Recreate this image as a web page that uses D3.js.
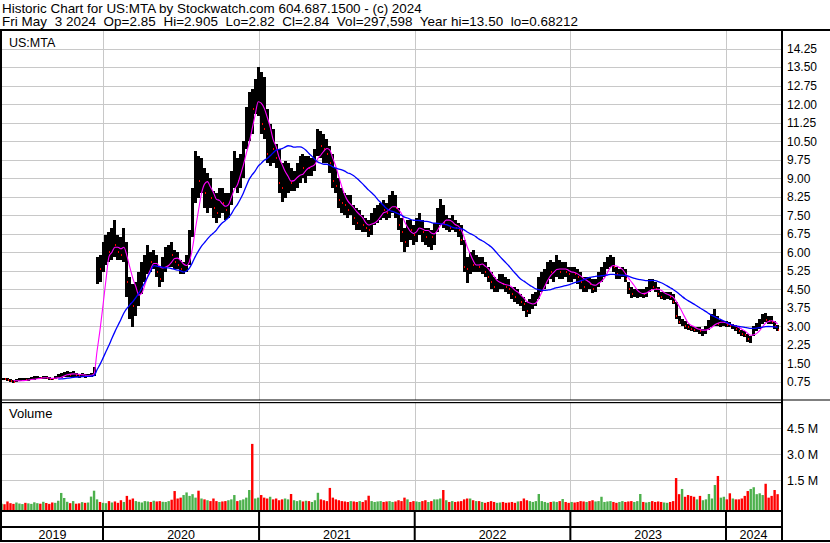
<!DOCTYPE html>
<html><head><meta charset="utf-8">
<script src="https://cdn.jsdelivr.net/npm/d3@7"></script>
<style>
body{margin:0;background:#fff}
svg{display:block}
text{font-family:"Liberation Sans",Arial,sans-serif;fill:#000;white-space:pre}
</style>
</head><body>
<svg id="c" width="830" height="543"></svg>
<script>
const headerLine1 = "Historic Chart for US:MTA by Stockwatch.com 604.687.1500 - (c) 2024";
const headerLine2 = "Fri May  3 2024  Op=2.85  Hi=2.905  Lo=2.82  Cl=2.84  Vol=297,598  Year hi=13.50  lo=0.68212";
const symbolLabel = "US:MTA";
const firstWeek = "2019-05-10";
const years = [2019, 2020, 2021, 2022, 2023, 2024];
const priceTicks = [0.75,1.5,2.25,3,3.75,4.5,5.25,6,6.75,7.5,8.25,9,9.75,10.5,11.25,12,12.75,13.5,14.25];
const volumeTicks = [1.5e6, 3e6, 4.5e6];

const weekLow = [
0.80,0.80,0.76,0.72,0.70,0.74,0.76,0.78,0.76,0.78,0.80,0.82,0.84,0.84,0.86,0.84,0.82,0.80,0.84,0.88,
0.92,0.94,0.96,0.94,0.96,0.94,0.92,0.94,0.92,0.94,0.96,1.00,
4.7,4.8,5.2,5.5,5.6,5.7,5.8,5.7,5.7,5.6,4.2,3.3,2.98,3.4,3.8,4.3,4.8,5.1,5.2,5.3,
5.0,4.6,4.8,5.2,5.4,5.4,5.3,5.3,5.1,5.1,5.2,5.5,6.6,8.0,8.2,8.4,7.8,7.6,7.8,7.4,
7.2,7.4,7.6,7.3,7.4,7.9,8.6,8.4,8.6,9.0,10.2,10.5,10.8,11.6,11.5,
10.8,10.6,9.6,9.5,9.6,9.4,8.4,8.05,8.2,8.4,8.5,8.5,8.6,8.8,9.0,8.8,9.1,9.1,9.3,9.9,
9.8,9.6,9.6,9.2,8.6,8.4,7.8,7.6,7.5,7.4,7.5,7.1,6.9,6.9,6.8,6.8,6.6,6.7,7.1,7.2,
7.3,7.4,7.3,7.4,7.6,7.4,6.9,6.4,6.0,6.2,6.5,
6.3,6.4,6.7,6.4,6.3,6.2,6.1,6.3,6.8,7.1,7.0,6.9,6.8,6.9,6.8,6.6,6.3,5.2,4.75,5.1,
5.2,5.2,5.2,5.1,5.0,4.8,4.5,4.4,4.4,4.5,4.5,4.4,4.3,4.1,4.0,3.9,3.8,3.6,3.38,3.5,
3.7,3.8,4.1,4.4,4.5,4.7,4.9,4.8,5.0,4.9,4.9,5.0,
4.8,4.8,4.9,4.7,4.5,4.4,4.4,4.5,4.35,4.4,4.6,4.8,5.0,5.3,5.4,5.2,4.9,4.9,5.0,4.8,
4.3,4.15,4.2,4.15,4.2,4.15,4.2,4.4,4.5,4.4,4.2,4.1,4.05,4.1,4.05,3.9,3.3,3.1,3.0,2.9,
2.85,2.8,2.75,2.75,2.7,2.6,2.7,2.85,2.95,3.0,3.0,2.97,
3.0,2.97,2.95,2.9,2.8,2.7,2.6,2.55,2.35,2.3,2.6,2.8,2.9,3.1,3.15,3.1,3.1,2.9,2.82
];
const weekHigh = [
0.92,0.90,0.88,0.84,0.82,0.86,0.88,0.90,0.88,0.90,0.94,0.98,0.98,0.96,1.00,0.98,0.94,0.92,0.98,1.06,
1.12,1.16,1.20,1.14,1.18,1.12,1.08,1.10,1.06,1.08,1.10,1.36,
5.8,5.9,6.4,6.7,6.8,7.0,7.3,6.7,6.6,7.0,6.4,5.0,4.7,4.8,5.2,5.6,5.9,6.3,6.0,6.1,
5.9,5.4,5.8,6.2,6.3,6.4,6.1,6.0,5.7,5.6,5.9,6.9,8.6,10.1,9.9,9.8,9.4,9.2,9.0,8.5,
8.4,8.6,8.6,8.4,8.4,9.3,10.1,9.8,10.0,10.5,11.9,12.5,12.6,13.0,13.5,
13.3,13.1,11.8,11.2,11.0,10.4,10.2,9.6,9.7,9.6,9.4,9.3,9.6,9.9,10.0,9.9,9.9,9.8,10.2,11.0,
10.9,10.8,10.6,10.3,10.0,9.4,9.0,8.6,8.4,8.3,8.3,7.9,7.8,7.7,7.5,7.4,7.3,7.6,7.8,7.9,
8.0,8.1,8.0,8.3,8.5,8.3,7.8,7.4,7.0,7.3,7.3,
7.1,7.4,7.6,7.3,7.0,7.0,6.9,7.2,7.8,8.15,7.9,7.5,7.4,7.5,7.3,7.2,7.1,6.5,5.8,6.0,
6.1,5.9,5.8,5.8,5.6,5.4,5.2,5.0,4.9,5.1,5.1,5.0,4.9,4.6,4.6,4.5,4.3,4.2,4.0,4.1,
4.3,4.4,5.0,5.2,5.3,5.6,5.7,5.6,5.9,5.7,5.6,5.6,
5.4,5.4,5.4,5.3,5.2,5.0,5.0,5.0,4.9,4.9,5.2,5.4,5.6,5.8,5.9,5.8,5.4,5.3,5.4,5.3,
4.8,4.6,4.5,4.5,4.5,4.5,4.6,4.9,4.9,4.8,4.6,4.4,4.4,4.4,4.4,4.3,4.0,3.4,3.3,3.2,
3.1,3.0,2.95,2.95,2.95,2.9,3.0,3.25,3.5,3.7,3.4,3.25,
3.2,3.2,3.15,3.1,3.05,2.95,2.85,2.8,2.7,2.6,3.0,3.12,3.3,3.5,3.53,3.4,3.4,3.2,3.05
];
const weekClose = [
0.86,0.84,0.80,0.76,0.74,0.80,0.82,0.84,0.80,0.84,0.88,0.90,0.92,0.88,0.94,0.90,0.86,0.84,0.92,1.00,
1.04,1.08,1.10,1.04,1.08,1.02,1.00,1.02,0.98,1.00,1.04,1.30,
5.6,5.3,6.0,6.2,6.0,6.5,6.3,6.0,5.9,6.3,4.8,3.9,3.8,4.2,4.6,5.2,5.5,5.7,5.6,5.7,
5.2,4.9,5.4,5.8,6.0,5.9,5.6,5.5,5.3,5.3,5.6,6.5,8.2,9.3,8.9,9.0,8.4,8.7,8.2,7.8,
7.6,8.2,8.0,7.7,8.1,9.1,9.8,8.9,9.6,10.2,11.5,12.0,11.8,12.4,12.8,
11.2,11.0,10.0,10.4,10.2,9.8,8.8,8.6,9.0,9.2,8.8,8.9,9.2,9.5,9.4,9.6,9.4,9.5,9.9,10.6,
10.3,10.2,10.0,9.6,8.9,8.7,8.1,8.0,7.9,7.7,8.0,7.4,7.2,7.3,7.1,7.0,6.9,7.4,7.5,7.6,
7.8,7.7,7.6,8.0,8.1,7.8,7.1,6.8,6.4,7.0,6.9,
6.7,7.1,7.2,6.8,6.6,6.7,6.6,7.0,7.5,7.6,7.2,7.2,7.0,7.2,7.0,6.9,6.5,5.4,5.3,5.6,
5.5,5.6,5.4,5.5,5.2,5.0,4.8,4.6,4.7,4.8,4.7,4.6,4.5,4.3,4.2,4.3,4.0,3.9,3.6,3.9,
4.1,4.2,4.8,4.9,5.1,5.3,5.2,5.4,5.5,5.2,5.3,5.2,
5.1,5.2,5.1,5.0,4.8,4.6,4.8,4.7,4.5,4.7,5.0,5.2,5.4,5.6,5.7,5.4,5.1,5.1,5.2,4.9,
4.5,4.3,4.3,4.3,4.4,4.3,4.4,4.7,4.6,4.5,4.3,4.2,4.2,4.3,4.2,4.0,3.4,3.15,3.2,3.0,
2.95,2.9,2.85,2.85,2.8,2.8,2.9,3.1,3.2,3.3,3.1,3.1,
3.1,3.05,3.0,3.0,2.9,2.8,2.7,2.65,2.5,2.5,2.9,3.0,3.2,3.3,3.25,3.2,3.15,3.0,2.84
];
// peak daily volume within each week, thousands of shares
const weekVolumeK = [
150,120,280,180,140,220,160,130,200,170,140,230,180,150,260,190,140,220,200,320,
770,480,260,180,300,150,170,240,200,220,560,900,
400,250,200,180,300,220,280,200,350,250,600,380,450,300,260,220,300,280,250,320,
280,300,260,250,300,380,880,450,500,650,800,600,700,500,900,450,400,350,300,450,
300,250,280,300,350,400,650,300,350,400,500,940,3600,450,500,
650,500,450,550,400,450,350,400,450,400,710,350,300,350,280,320,300,250,350,780,
400,350,300,1060,500,400,350,300,280,250,300,280,250,300,250,350,610,300,250,280,
300,250,280,300,250,280,350,300,500,400,250,
300,280,250,300,350,250,300,400,400,450,940,350,250,300,250,280,300,400,450,450,
350,300,300,250,200,250,300,250,200,220,250,200,220,250,200,280,300,450,350,300,
250,300,710,300,250,200,250,280,250,300,420,250,
200,250,220,250,300,280,250,300,350,280,300,550,250,280,300,250,200,250,300,250,
280,300,250,300,710,250,220,250,300,250,280,250,220,200,250,300,1630,700,1000,550,
650,600,550,400,600,350,400,710,450,1230,1750,500,
550,400,750,450,400,400,450,600,880,1000,1100,700,750,650,1300,500,600,940,700
];

const svg = d3.select("#c");
const W = 830, H = 543;
const L = 2, R = 781;            // plot left / right axis line
const mainTop = 31, mainBot = 400;
const volTop = 403, volBot = 510;

const x = d3.scaleTime().domain([new Date(2020,0,1), new Date(2024,0,1)]).range([103, 726]);
const y = d3.scaleLinear().domain([0, 15]).range([400.2, 30.15]);
const yv = d3.scaleLinear().domain([0, 6e6]).range([506.3, 402.3]);

const start = d3.timeParse("%Y-%m-%d")(firstWeek);
const data = weekClose.map((c, i) => ({
  date: d3.timeDay.offset(start, 7 * i - 2),
  lo: weekLow[i], hi: weekHigh[i], cl: c, vol: weekVolumeK[i] * 1000,
  up: i === 0 ? true : c >= weekClose[i - 1]
}));

function sma(n) {
  return data.map((d, i) => i < n - 1 ? null : {date: d.date, v: d3.mean(data.slice(i - n + 1, i + 1), e => e.cl)});
}
const maShort = sma(5);   // ~25 trading days
const maLong = sma(20);   // ~100 trading days

svg.append("rect").attr("width", W).attr("height", H).attr("fill", "#fff");

const defs = svg.append("defs");
defs.append("clipPath").attr("id", "cm").append("rect").attr("x", L).attr("y", mainTop).attr("width", R - L).attr("height", mainBot - mainTop);
defs.append("clipPath").attr("id", "cv").append("rect").attr("x", L).attr("y", volTop).attr("width", R - L).attr("height", volBot - volTop);

const grid = "#c8c8c8";
const yearStarts = years.slice(1).map(yr => new Date(yr, 0, 1));

const gMainGrid = svg.append("g").attr("transform", `translate(${L},0)`)
  .call(d3.axisRight(y).tickValues(priceTicks).tickSize(R - L).tickFormat(""));
gMainGrid.select(".domain").remove();
gMainGrid.selectAll("line").attr("stroke", grid).attr("shape-rendering", "crispEdges");

const gVolGrid = svg.append("g").attr("transform", `translate(${L},0)`)
  .call(d3.axisRight(yv).tickValues(volumeTicks).tickSize(R - L).tickFormat(""));
gVolGrid.select(".domain").remove();
gVolGrid.selectAll("line").attr("stroke", grid).attr("shape-rendering", "crispEdges");

[[mainTop, mainBot], [volTop, volBot]].forEach(([t, b]) => {
  const g = svg.append("g").attr("transform", `translate(0,${t})`)
    .call(d3.axisBottom(x).tickValues(yearStarts).tickSize(b - t).tickFormat(""));
  g.select(".domain").remove();
  g.selectAll("line").attr("stroke", grid).attr("shape-rendering", "crispEdges");
});

// price bars
const gm = svg.append("g").attr("clip-path", "url(#cm)");
gm.append("g").attr("shape-rendering", "crispEdges")
  .selectAll("rect").data(data).join("rect")
  .attr("x", d => x(d.date) - 1.5).attr("width", 3)
  .attr("y", d => y(d.hi)).attr("height", d => Math.max(1, y(d.lo) - y(d.hi)))
  .attr("fill", "#000");
gm.append("g").attr("shape-rendering", "crispEdges")
  .selectAll("rect").data(data.filter(d => !d.up)).join("rect")
  .attr("x", d => x(d.date) + 0.3).attr("width", 1)
  .attr("y", d => y(d.cl) - 1).attr("height", 2)
  .attr("fill", "#ff0000");

const line = d3.line().defined(d => d !== null).x(d => x(d.date)).y(d => y(d.v)).curve(d3.curveMonotoneX);
gm.append("path").datum(maShort).attr("d", line).attr("fill", "none").attr("stroke", "#ff00ff").attr("stroke-width", 1.1);
gm.append("path").datum(maLong).attr("d", line).attr("fill", "none").attr("stroke", "#0000ff").attr("stroke-width", 1.3);

// volume bars
const gv = svg.append("g").attr("clip-path", "url(#cv)");
gv.selectAll("rect").data(data).join("rect")
  .attr("x", d => x(d.date) - 1.2).attr("width", 2.4)
  .attr("y", d => yv(d.vol)).attr("height", d => volBot - yv(d.vol))
  .attr("fill", d => d.up ? "#4cb04c" : "#ff0000");

// frame
const blk = (xx, yy, w, h) => svg.append("rect").attr("x", xx).attr("y", yy).attr("width", w).attr("height", h).attr("fill", "#000");
blk(0, 29, W, 2);
blk(0, 29, 2, 513);
blk(R, 29, 2, 513);
blk(0, 399.5, W, 1);
blk(0, 402, R + 2, 1.2);
blk(0, 510, R + 2, 2);
blk(0, 526, R + 2, 2);
blk(0, 540, W, 2);
yearStarts.forEach(d => blk(x(d) - 1, 510, 2, 32));

// header text
const h1 = svg.append("text").attr("x", 2).attr("y", 12.5).style("font-size", "12px").text(headerLine1);
const len = h1.node().getComputedTextLength();
const fs = 12 * 420 / len;
h1.style("font-size", fs + "px");
svg.append("text").attr("x", 2).attr("y", 26).style("font-size", fs + "px")
  .attr("textLength", 576).attr("lengthAdjust", "spacing").text(headerLine2);

svg.append("text").attr("x", 9).attr("y", 46.5).style("font-size", "12.5px").text(symbolLabel);
svg.append("text").attr("x", 9).attr("y", 417.5).style("font-size", "13px").text("Volume");

const ga = svg.append("g").attr("transform", `translate(${R + 2},0)`)
  .call(d3.axisRight(y).tickValues(priceTicks).tickSize(0).tickPadding(4).tickFormat(d3.format(".2f")));
ga.select(".domain").remove();
ga.selectAll("text").attr("font-family", null).style("font-size", "12px").attr("fill", "#000");

const gva = svg.append("g").attr("transform", `translate(${R + 2},0)`)
  .call(d3.axisRight(yv).tickValues(volumeTicks).tickSize(0).tickPadding(4).tickFormat(d => (d / 1e6).toFixed(1) + " M"));
gva.select(".domain").remove();
gva.selectAll("text").attr("font-family", null).style("font-size", "12.5px").attr("fill", "#000");

const bounds = [L, ...yearStarts.map(d => x(d)), R];
years.forEach((yr, i) => {
  svg.append("text").attr("x", (bounds[i] + bounds[i + 1]) / 2).attr("y", 539)
    .attr("text-anchor", "middle").style("font-size", "12.5px").text(String(yr));
});
</script>
</body></html>
